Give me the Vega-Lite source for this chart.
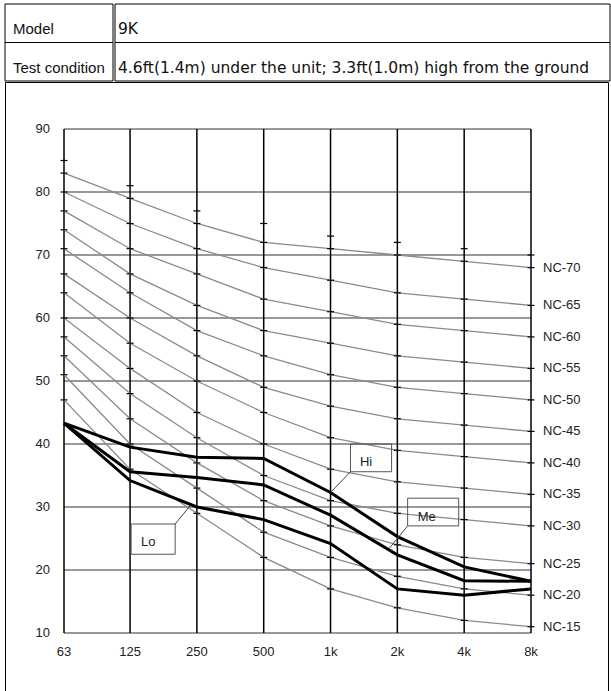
{
  "$schema": "https://vega.github.io/schema/vega-lite/v6.json",
  "padding": {"left": 4, "top": 3, "right": 4, "bottom": 0},
  "autosize": {"type": "pad"},
  "background": "white",
  "spacing": -4,
  "config": {"view": {"stroke": null}, "font": "Liberation Sans"},
  "datasets": {
    "nc": [
      {"f": 63, "NC-15": 47, "NC-20": 51, "NC-25": 54, "NC-30": 57, "NC-35": 60, "NC-40": 64, "NC-45": 67, "NC-50": 71, "NC-55": 74, "NC-60": 77, "NC-65": 80, "NC-70": 83},
      {"f": 125, "NC-15": 36, "NC-20": 40, "NC-25": 44, "NC-30": 48, "NC-35": 52, "NC-40": 56, "NC-45": 60, "NC-50": 64, "NC-55": 67, "NC-60": 71, "NC-65": 75, "NC-70": 79},
      {"f": 250, "NC-15": 29, "NC-20": 33, "NC-25": 37, "NC-30": 41, "NC-35": 45, "NC-40": 50, "NC-45": 54, "NC-50": 58, "NC-55": 62, "NC-60": 67, "NC-65": 71, "NC-70": 75},
      {"f": 500, "NC-15": 22, "NC-20": 26, "NC-25": 31, "NC-30": 35, "NC-35": 40, "NC-40": 45, "NC-45": 49, "NC-50": 54, "NC-55": 58, "NC-60": 63, "NC-65": 68, "NC-70": 72},
      {"f": 1000, "NC-15": 17, "NC-20": 22, "NC-25": 27, "NC-30": 31, "NC-35": 36, "NC-40": 41, "NC-45": 46, "NC-50": 51, "NC-55": 56, "NC-60": 61, "NC-65": 66, "NC-70": 71},
      {"f": 2000, "NC-15": 14, "NC-20": 19, "NC-25": 24, "NC-30": 29, "NC-35": 34, "NC-40": 39, "NC-45": 44, "NC-50": 49, "NC-55": 54, "NC-60": 59, "NC-65": 64, "NC-70": 70},
      {"f": 4000, "NC-15": 12, "NC-20": 17, "NC-25": 22, "NC-30": 28, "NC-35": 33, "NC-40": 38, "NC-45": 43, "NC-50": 48, "NC-55": 53, "NC-60": 58, "NC-65": 63, "NC-70": 69},
      {"f": 8000, "NC-15": 11, "NC-20": 16, "NC-25": 21, "NC-30": 27, "NC-35": 32, "NC-40": 37, "NC-45": 42, "NC-50": 47, "NC-55": 52, "NC-60": 57, "NC-65": 62, "NC-70": 68}
    ],
    "freqs": [
      {"f": 63, "lab": "63"}, {"f": 125, "lab": "125"}, {"f": 250, "lab": "250"}, {"f": 500, "lab": "500"},
      {"f": 1000, "lab": "1k"}, {"f": 2000, "lab": "2k"}, {"f": 4000, "lab": "4k"}, {"f": 8000, "lab": "8k"}
    ],
    "levels": [{"g": 10}, {"g": 20}, {"g": 30}, {"g": 40}, {"g": 50}, {"g": 60}, {"g": 70}, {"g": 80}, {"g": 90}],
    "extraTicks": [
      {"f": 63, "L": 85}, {"f": 125, "L": 81}, {"f": 250, "L": 77}, {"f": 500, "L": 75},
      {"f": 1000, "L": 73}, {"f": 2000, "L": 72}, {"f": 4000, "L": 71}, {"f": 8000, "L": 70}
    ],
    "meas": [
      {"f": 63, "Hi": 43.3, "Me": 43.3, "Lo": 43.3},
      {"f": 125, "Hi": 39.5, "Me": 35.6, "Lo": 34.2},
      {"f": 250, "Hi": 37.9, "Me": 34.7, "Lo": 30.0},
      {"f": 500, "Hi": 37.7, "Me": 33.5, "Lo": 28.0},
      {"f": 1000, "Hi": 32.3, "Me": 28.7, "Lo": 24.2},
      {"f": 2000, "Hi": 25.3, "Me": 22.4, "Lo": 17.0},
      {"f": 4000, "Hi": 20.5, "Me": 18.3, "Lo": 16.0},
      {"f": 8000, "Hi": 18.2, "Me": 18.2, "Lo": 17.0}
    ],
    "ann": [
      {"t": "Hi", "bx": 1230, "bx2": 1884, "by": 40.0, "by2": 35.6, "tx": 1445, "ty": 37.1, "lx": 1230, "ly": 35.6, "lx2": 1000, "ly2": 32.3},
      {"t": "Me", "bx": 2225, "bx2": 3780, "by": 31.4, "by2": 27.0, "tx": 2711, "ty": 28.4, "lx": 2225, "ly": 27.0, "lx2": 1846, "ly2": 23.5},
      {"t": "Lo", "bx": 126.4, "bx2": 199.6, "by": 27.3, "by2": 22.5, "tx": 150.8, "ty": 24.4, "lx": 199.6, "ly": 27.3, "lx2": 233, "ly2": 30.2}
    ]
  },
  "vconcat": [
    {
      "spacing": 0,
      "hconcat": [
        {
          "width": 108, "height": 77,
          "data": {"values": [{"r": "1", "t": "Model"}, {"r": "2", "t": "Test condition"}]},
          "layer": [
            {"mark": {"type": "rect", "fill": "white", "stroke": "black", "strokeWidth": 1},
             "encoding": {"y": {"field": "r", "type": "nominal", "scale": {"type": "band", "paddingInner": 0, "paddingOuter": 0}, "axis": null}}},
            {"mark": {"type": "text", "align": "left", "baseline": "alphabetic", "dy": 11, "fontSize": 15, "font": "Liberation Sans", "color": "#111"},
             "encoding": {"y": {"field": "r", "type": "nominal", "scale": {"type": "band", "paddingInner": 0, "paddingOuter": 0}, "axis": null}, "x": {"value": 8}, "text": {"field": "t"}}}
          ]
        },
        {
          "width": 495, "height": 77,
          "data": {"values": [{"r": "1", "t": "9K"}, {"r": "2", "t": "4.6ft(1.4m) under the unit; 3.3ft(1.0m) high from the ground"}]},
          "layer": [
            {"mark": {"type": "rect", "fill": "white", "stroke": "black", "strokeWidth": 1},
             "encoding": {"y": {"field": "r", "type": "nominal", "scale": {"type": "band", "paddingInner": 0, "paddingOuter": 0}, "axis": null}}},
            {"mark": {"type": "text", "align": "left", "baseline": "alphabetic", "dy": 11, "fontSize": 15.5, "font": "DejaVu Sans", "color": "#111"},
             "encoding": {"y": {"field": "r", "type": "nominal", "scale": {"type": "band", "paddingInner": 0, "paddingOuter": 0}, "axis": null}, "x": {"value": 3}, "text": {"field": "t"}}}
          ]
        }
      ]
    },
    {
      "width": 603, "height": 611,
      "view": {"stroke": "black", "strokeWidth": 1},
      "layer": [
        {
          "data": {"name": "levels"},
          "mark": {"type": "rule", "stroke": "#333", "strokeWidth": 1},
          "encoding": {
            "y": {"field": "g", "type": "quantitative", "scale": {"domain": [10, 90], "range": [551, 47], "nice": false, "zero": false}, "axis": null},
            "x": {"datum": 63, "type": "quantitative", "scale": {"type": "log", "domain": [63, 8000], "range": [59, 526], "nice": false, "zero": false}, "axis": null},
            "x2": {"datum": 8000}
          }
        },
        {
          "data": {"name": "levels"},
          "mark": {"type": "text", "align": "right", "baseline": "middle", "dx": -14, "fontSize": 13, "font": "Liberation Sans", "color": "#222"},
          "encoding": {
            "y": {"field": "g", "type": "quantitative", "scale": {"domain": [10, 90], "range": [551, 47], "nice": false, "zero": false}, "axis": null},
            "x": {"datum": 63, "type": "quantitative", "scale": {"type": "log", "domain": [63, 8000], "range": [59, 526], "nice": false, "zero": false}, "axis": null},
            "text": {"field": "g"}
          }
        },
        {
          "data": {"name": "freqs"},
          "mark": {"type": "rule", "stroke": "black", "strokeWidth": 1.5},
          "encoding": {
            "x": {"field": "f", "type": "quantitative", "scale": {"type": "log", "domain": [63, 8000], "range": [59, 526], "nice": false, "zero": false}, "axis": null},
            "y": {"datum": 10, "type": "quantitative", "scale": {"domain": [10, 90], "range": [551, 47], "nice": false, "zero": false}, "axis": null},
            "y2": {"datum": 90}
          }
        },
        {
          "data": {"name": "freqs"},
          "mark": {"type": "text", "align": "center", "baseline": "middle", "dy": 19, "fontSize": 13, "font": "Liberation Sans", "color": "#222"},
          "encoding": {
            "x": {"field": "f", "type": "quantitative", "scale": {"type": "log", "domain": [63, 8000], "range": [59, 526], "nice": false, "zero": false}, "axis": null},
            "y": {"datum": 10, "type": "quantitative", "scale": {"domain": [10, 90], "range": [551, 47], "nice": false, "zero": false}, "axis": null},
            "text": {"field": "lab"}
          }
        },
        {
          "data": {"name": "nc"},
          "transform": [{"fold": ["NC-15", "NC-20", "NC-25", "NC-30", "NC-35", "NC-40", "NC-45", "NC-50", "NC-55", "NC-60", "NC-65", "NC-70"], "as": ["nc", "L"]}],
          "mark": {"type": "line", "stroke": "#8a8a8a", "strokeWidth": 1.3},
          "encoding": {
            "x": {"field": "f", "type": "quantitative", "scale": {"type": "log", "domain": [63, 8000], "range": [59, 526], "nice": false, "zero": false}, "axis": null},
            "y": {"field": "L", "type": "quantitative", "scale": {"domain": [10, 90], "range": [551, 47], "nice": false, "zero": false}, "axis": null},
            "detail": {"field": "nc", "type": "nominal"}
          }
        },
        {
          "data": {"name": "nc"},
          "transform": [{"fold": ["NC-15", "NC-20", "NC-25", "NC-30", "NC-35", "NC-40", "NC-45", "NC-50", "NC-55", "NC-60", "NC-65", "NC-70"], "as": ["nc", "L"]}],
          "mark": {"type": "point", "shape": "stroke", "size": 49, "filled": false, "stroke": "black", "strokeWidth": 1.2, "opacity": 1},
          "encoding": {
            "x": {"field": "f", "type": "quantitative", "scale": {"type": "log", "domain": [63, 8000], "range": [59, 526], "nice": false, "zero": false}, "axis": null},
            "y": {"field": "L", "type": "quantitative", "scale": {"domain": [10, 90], "range": [551, 47], "nice": false, "zero": false}, "axis": null}
          }
        },
        {
          "data": {"name": "extraTicks"},
          "mark": {"type": "point", "shape": "stroke", "size": 49, "filled": false, "stroke": "black", "strokeWidth": 1.2, "opacity": 1},
          "encoding": {
            "x": {"field": "f", "type": "quantitative", "scale": {"type": "log", "domain": [63, 8000], "range": [59, 526], "nice": false, "zero": false}, "axis": null},
            "y": {"field": "L", "type": "quantitative", "scale": {"domain": [10, 90], "range": [551, 47], "nice": false, "zero": false}, "axis": null}
          }
        },
        {
          "data": {"name": "nc"},
          "transform": [{"fold": ["NC-15", "NC-20", "NC-25", "NC-30", "NC-35", "NC-40", "NC-45", "NC-50", "NC-55", "NC-60", "NC-65", "NC-70"], "as": ["nc", "L"]}, {"filter": "datum.f == 8000"}],
          "mark": {"type": "text", "align": "left", "baseline": "middle", "dx": 12, "fontSize": 13, "font": "Liberation Sans", "color": "#222"},
          "encoding": {
            "x": {"field": "f", "type": "quantitative", "scale": {"type": "log", "domain": [63, 8000], "range": [59, 526], "nice": false, "zero": false}, "axis": null},
            "y": {"field": "L", "type": "quantitative", "scale": {"domain": [10, 90], "range": [551, 47], "nice": false, "zero": false}, "axis": null},
            "text": {"field": "nc"}
          }
        },
        {
          "data": {"name": "meas"},
          "transform": [{"fold": ["Hi", "Me", "Lo"], "as": ["mode", "L"]}],
          "mark": {"type": "line", "stroke": "black", "strokeWidth": 3},
          "encoding": {
            "x": {"field": "f", "type": "quantitative", "scale": {"type": "log", "domain": [63, 8000], "range": [59, 526], "nice": false, "zero": false}, "axis": null},
            "y": {"field": "L", "type": "quantitative", "scale": {"domain": [10, 90], "range": [551, 47], "nice": false, "zero": false}, "axis": null},
            "detail": {"field": "mode", "type": "nominal"}
          }
        },
        {
          "data": {"name": "ann"},
          "mark": {"type": "rule", "stroke": "#444", "strokeWidth": 1},
          "encoding": {
            "x": {"field": "lx", "type": "quantitative", "scale": {"type": "log", "domain": [63, 8000], "range": [59, 526], "nice": false, "zero": false}, "axis": null},
            "x2": {"field": "lx2"},
            "y": {"field": "ly", "type": "quantitative", "scale": {"domain": [10, 90], "range": [551, 47], "nice": false, "zero": false}, "axis": null},
            "y2": {"field": "ly2"}
          }
        },
        {
          "data": {"name": "ann"},
          "mark": {"type": "rect", "fillOpacity": 0, "stroke": "#555", "strokeWidth": 1},
          "encoding": {
            "x": {"field": "bx", "type": "quantitative", "scale": {"type": "log", "domain": [63, 8000], "range": [59, 526], "nice": false, "zero": false}, "axis": null},
            "x2": {"field": "bx2"},
            "y": {"field": "by", "type": "quantitative", "scale": {"domain": [10, 90], "range": [551, 47], "nice": false, "zero": false}, "axis": null},
            "y2": {"field": "by2"}
          }
        },
        {
          "data": {"name": "ann"},
          "mark": {"type": "text", "align": "center", "baseline": "middle", "fontSize": 13, "font": "Liberation Sans", "color": "#222"},
          "encoding": {
            "x": {"field": "tx", "type": "quantitative", "scale": {"type": "log", "domain": [63, 8000], "range": [59, 526], "nice": false, "zero": false}, "axis": null},
            "y": {"field": "ty", "type": "quantitative", "scale": {"domain": [10, 90], "range": [551, 47], "nice": false, "zero": false}, "axis": null},
            "text": {"field": "t"}
          }
        }
      ]
    }
  ]
}
